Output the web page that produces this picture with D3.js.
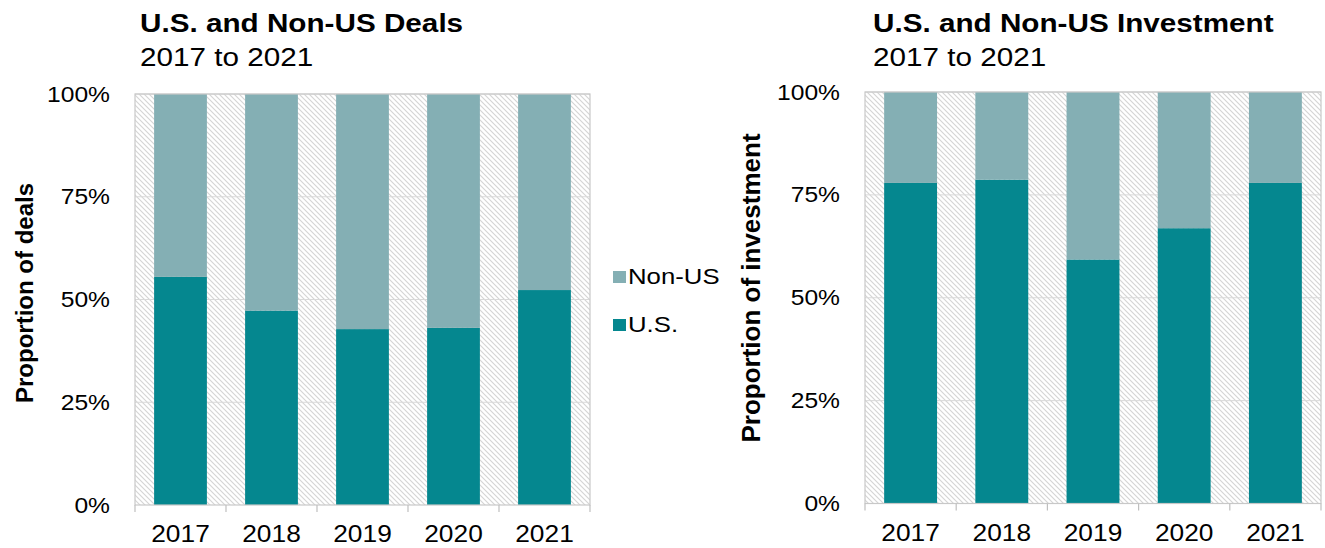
<!DOCTYPE html>
<html lang="en">
<head>
<meta charset="utf-8">
<title>U.S. and Non-US Deals / Investment</title>
<script src="https://cdn.jsdelivr.net/npm/d3@7"></script>
<style>
  body { margin: 0; background: #fff; }
  svg text { font-family: "Liberation Sans", Arial, sans-serif; fill: #000; }
</style>
</head>
<body>
<svg id="chart" width="1325" height="548"></svg>
<script>
// data (share of U.S., rest is Non-US)
const years = ["2017", "2018", "2019", "2020", "2021"];
const dealsUS = [0.555, 0.473, 0.428, 0.431, 0.523];
const investUS = [0.779, 0.787, 0.593, 0.669, 0.779];
const yTicks = [0, 0.25, 0.5, 0.75, 1];
const seriesNames = ["Non-US", "U.S."];

const color = { "U.S.": "#05878f", "Non-US": "#84afb4", grid: "#d9d9d9", border: "#c8c8c8", hatch: "#d4d4d4" };
// the source text looks a bit wider than Arial, so stretch it sideways
const SX = 1.12;

const svg = d3.select("#chart");

function stretchText(sel, x, y) {
    return sel.attr("x", 0).attr("y", 0)
        .attr("transform", (d, i) => {
            const xx = typeof x === "function" ? x(d, i) : x;
            const yy = typeof y === "function" ? y(d, i) : y;
            return `translate(${xx},${yy}) scale(${SX},1)`;
        });
}

// hatched background pattern
const defs = svg.append("defs");
const pat = defs.append("pattern")
    .attr("id", "hatch")
    .attr("patternUnits", "userSpaceOnUse")
    .attr("width", 5).attr("height", 5);
pat.append("rect").attr("width", 5).attr("height", 5).attr("fill", "#fff");
pat.append("path")
    .attr("d", "M-1,-1 L6,6 M-1,4 L1,6 M4,-1 L6,1")
    .attr("stroke", color.hatch)
    .attr("stroke-width", 1.1);

function drawPanel(opt) {
    const g = svg.append("g");
    const x = d3.scaleBand().domain(years).range([opt.left, opt.right]).paddingInner(0.42).paddingOuter(0.21);
    const xTick = d3.scaleBand().domain(years).range([opt.left, opt.right]);
    const y = d3.scaleLinear().domain([0, 1]).range([opt.bottom, opt.top]);

    // background
    g.append("rect")
        .attr("x", opt.left).attr("y", opt.top)
        .attr("width", opt.right - opt.left).attr("height", opt.bottom - opt.top)
        .attr("fill", "url(#hatch)");

    // gridlines
    g.selectAll(".grid").data(yTicks.slice(1)).join("line")
        .attr("x1", opt.left).attr("x2", opt.right)
        .attr("y1", d => y(d)).attr("y2", d => y(d))
        .attr("stroke", color.grid).attr("stroke-width", 1);

    // bars
    const rows = years.map((yr, i) => ({ year: yr, "U.S.": opt.values[i], "Non-US": 1 - opt.values[i] }));
    const stack = d3.stack().keys(["U.S.", "Non-US"])(rows);
    g.selectAll(".layer").data(stack).join("g")
        .attr("fill", d => color[d.key])
      .selectAll("rect").data(d => d).join("rect")
        .attr("x", d => x(d.data.year))
        .attr("width", x.bandwidth())
        .attr("y", d => y(d[1]))
        .attr("height", d => y(d[0]) - y(d[1]));

    // border
    g.append("rect")
        .attr("x", opt.left).attr("y", opt.top)
        .attr("width", opt.right - opt.left).attr("height", opt.bottom - opt.top)
        .attr("fill", "none").attr("stroke", color.border).attr("stroke-width", 1.2);

    // x axis ticks (between categories)
    const tickPos = years.map(d => xTick(d)).concat([opt.right]);
    g.selectAll(".xt").data(tickPos).join("line")
        .attr("x1", d => d).attr("x2", d => d)
        .attr("y1", opt.bottom).attr("y2", opt.bottom + 7)
        .attr("stroke", "#bfbfbf").attr("stroke-width", 1.2);

    g.selectAll(".xl").data(years).join("text")
        .call(stretchText, d => xTick(d) + xTick.bandwidth() / 2, opt.bottom + 37)
        .attr("text-anchor", "middle")
        .attr("font-size", 23.5)
        .text(d => d);

    // y tick labels
    g.selectAll(".yl").data(yTicks).join("text")
        .call(stretchText, opt.left - 25, d => y(d) + 7.5)
        .attr("text-anchor", "end")
        .attr("font-size", 22)
        .text(d3.format(".0%"));

    // y axis title
    g.append("text")
        .attr("transform", `translate(${opt.titleX},${opt.titleY}) rotate(-90)`)
        .attr("text-anchor", "middle")
        .attr("font-size", opt.yTitleSize)
        .attr("font-weight", "bold")
        .text(opt.yTitle);

    // chart title
    g.append("text")
        .call(stretchText, opt.titleLeft, 32)
        .attr("font-size", 26.5).attr("font-weight", "bold")
        .text(opt.title);
    g.append("text")
        .call(stretchText, opt.titleLeft, 66)
        .attr("font-size", 26.5)
        .text("2017 to 2021");
}

drawPanel({ left: 135, right: 590, top: 94, bottom: 505, values: dealsUS, titleLeft: 140,
    title: "U.S. and Non-US Deals", yTitle: "Proportion of deals", yTitleSize: 24, titleX: 33, titleY: 293 });
drawPanel({ left: 865, right: 1321, top: 92, bottom: 503.5, values: investUS, titleLeft: 873,
    title: "U.S. and Non-US Investment", yTitle: "Proportion of investment", yTitleSize: 26, titleX: 760, titleY: 288 });

// legend
const legend = svg.append("g").attr("transform", "translate(613,271)");
legend.selectAll("rect").data(seriesNames).join("rect")
    .attr("x", 0).attr("y", (d, i) => i * 48)
    .attr("width", 13).attr("height", 12)
    .attr("fill", d => color[d]);
legend.selectAll("text").data(seriesNames).join("text")
    .call(stretchText, 15, (d, i) => i * 48 + 13)
    .attr("font-size", 23)
    .text(d => d);
</script>
</body>
</html>
